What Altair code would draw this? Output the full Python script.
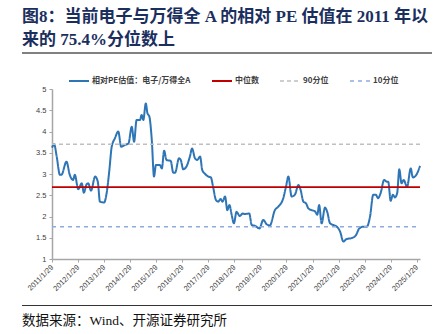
import altair as alt
import pandas as pd

# ---------------- data ----------------
series_names = ["相对PE估值：电子/万得全A", "中位数", "90分位", "10分位"]
series_colors = ["#2E75B6", "#C00000", "#BFBFBF", "#8FAADC"]

dates = [
    "2011/01/29", "2011/02/28", "2011/04/05", "2011/05/20", "2011/06/10", "2011/08/20", "2011/10/05", "2011/11/20", "2011/12/15",
    "2012/02/01", "2012/03/20", "2012/04/20", "2012/05/29", "2012/06/20", "2012/07/29", "2012/09/25", "2012/11/01", "2012/12/01",
    "2013/01/29", "2013/03/05", "2013/04/12", "2013/05/15", "2013/06/29", "2013/08/15", "2013/09/25", "2013/11/10",
    "2014/01/05", "2014/02/20", "2014/03/25", "2014/04/29", "2014/06/15", "2014/07/08", "2014/08/01", "2014/09/05", "2014/09/28", "2014/10/25", "2014/11/28", "2014/12/29",
    "2015/01/25", "2015/03/20", "2015/04/18", "2015/05/20", "2015/06/22", "2015/08/20", "2015/09/25", "2015/10/20", "2015/12/15",
    "2016/01/08", "2016/02/12", "2016/04/01", "2016/05/15", "2016/06/15", "2016/07/25", "2016/08/25", "2016/10/05", "2016/11/05", "2016/12/15",
    "2017/01/29", "2017/03/05", "2017/04/05", "2017/05/15", "2017/06/15", "2017/07/20", "2017/08/15", "2017/09/20", "2017/10/22", "2017/11/20", "2017/12/22",
    "2018/01/22", "2018/02/28", "2018/04/15", "2018/05/25", "2018/06/25", "2018/08/25", "2018/09/29", "2018/11/15",
    "2019/01/15", "2019/03/10", "2019/04/25", "2019/06/10", "2019/08/20", "2019/10/05", "2019/12/15",
    "2020/01/22", "2020/02/25", "2020/04/10", "2020/05/25", "2020/07/15", "2020/08/15", "2020/09/22", "2020/10/29", "2020/12/01",
    "2021/01/15", "2021/03/05", "2021/04/05", "2021/05/01", "2021/06/05", "2021/07/22", "2021/08/22", "2021/10/01", "2021/11/15",
    "2022/01/05", "2022/02/20", "2022/04/05", "2022/05/22", "2022/07/29", "2022/09/29", "2022/11/15",
    "2023/01/10", "2023/02/28", "2023/04/15", "2023/05/29", "2023/07/05", "2023/08/05", "2023/09/10", "2023/10/29", "2023/12/05", "2023/12/25",
    "2024/01/29", "2024/02/29", "2024/03/29", "2024/04/29", "2024/05/29", "2024/06/29", "2024/07/29", "2024/09/15", "2024/11/05", "2024/12/05",
    "2025/01/22", "2025/03/15",
]

values = [
    3.62, 3.70, 3.41, 2.98, 2.98, 3.29, 2.98, 2.86, 2.98,
    2.64, 2.78, 2.56, 2.76, 2.78, 2.61, 2.94, 2.82, 2.35,
    2.33, 2.55, 3.09, 3.64, 3.84, 4.00, 3.64, 3.68,
    3.72, 4.11, 3.76, 4.27, 4.27, 4.39, 4.27, 4.66, 4.43, 4.35, 3.80, 2.94,
    3.21, 3.21, 3.13, 3.55, 3.33, 3.31, 3.03, 3.03, 3.37,
    3.33, 3.11, 3.19, 3.41, 3.60, 3.37, 3.33, 3.41, 3.09, 3.00,
    2.94, 2.92, 2.70, 2.39, 2.35, 2.41, 2.35, 2.47, 2.15, 2.27, 2.04,
    1.84, 2.11, 2.01, 2.07, 2.06, 2.07, 1.80, 1.78,
    1.72, 1.92, 1.82, 1.79, 2.15, 2.23, 2.43,
    2.70, 2.94, 2.47, 2.51, 2.74, 2.62, 2.35, 2.31, 2.19,
    2.15, 2.12, 2.04, 2.27, 1.84, 2.21, 2.11, 1.84, 1.80,
    1.76, 1.64, 1.41, 1.47, 1.49, 1.56, 1.72,
    1.76, 1.76, 2.00, 2.51, 2.51, 2.43, 2.55, 2.86, 2.82, 2.82,
    2.37, 2.51, 2.45, 2.55, 3.11, 2.78, 2.86, 2.70, 3.13, 2.92,
    2.98, 3.19,
]

ref_values = [2.69, 3.70, 1.76]          # 中位数, 90分位, 10分位
ref_span = ["2011/01/29", "2025/03/15"]

tick_years = [2011, 2012, 2013, 2014, 2015, 2016, 2017, 2018, 2019, 2020, 2021, 2022, 2023, 2024, 2025]
y_ticks = [1, 1.5, 2, 2.5, 3, 3.5, 4, 4.5, 5]

title_lines = ["图8：当前电子与万得全 A 的相对 PE 估值在 2011 年以", "来的 75.4%分位数上"]
source_text = "数据来源：Wind、开源证券研究所"

# ---------------- build table ----------------
rows = [{"date": d, "value": v, "series": series_names[0], "order": 0} for d, v in zip(dates, values)]
for i, (name, rv) in enumerate(zip(series_names[1:], ref_values), start=1):
    for d in ref_span:
        rows.append({"date": d, "value": rv, "series": name, "order": i})
df = pd.DataFrame(rows)

W, H = 368, 170
PAD_L, PAD_T = 52, 89

legend = alt.Legend(
    title=None, orient="none", legendX=16, legendY=-19, direction="horizontal",
    symbolType="stroke", symbolSize=400, symbolStrokeWidth=2,
    labelFont="Noto Sans CJK SC", labelFontSize=8, labelFontWeight="bold",
    labelColor="#404040", labelOffset=2, columnPadding=17,
)

lines = alt.Chart(df).mark_line(interpolate="monotone").encode(
    x=alt.X(
        "date:T",
        scale=alt.Scale(domain=[alt.DateTime(year=2011, month=1, date=29),
                                alt.DateTime(year=2025, month=3, date=15)]),
        axis=alt.Axis(
            values=[alt.DateTime(year=y, month=1, date=29) for y in tick_years],
            format="%Y/%-m/%-d", labelAngle=-45, labelAlign="right", labelBaseline="middle",
            labelPadding=4, labelOverlap=False, labelBound=False, labelFlush=False,
            title=None, grid=False,
        ),
    ),
    y=alt.Y(
        "value:Q",
        scale=alt.Scale(domain=[1, 5], nice=False, zero=False),
        axis=alt.Axis(values=y_ticks, format="~g", title=None, grid=False, labelPadding=3),
    ),
    color=alt.Color("series:N", scale=alt.Scale(domain=series_names, range=series_colors), legend=legend),
    strokeDash=alt.StrokeDash("series:N",
                              scale=alt.Scale(domain=series_names, range=[[1, 0], [1, 0], [4, 3], [4, 4]]),
                              legend=legend),
    strokeWidth=alt.StrokeWidth("series:N",
                                scale=alt.Scale(domain=series_names, range=[2.0, 1.6, 1.4, 1.6]),
                                legend=None),
    order=alt.Order("order:Q"),
)

one = pd.DataFrame({"k": [0]})

title1 = alt.Chart(one).mark_text(
    text=title_lines[0], align="left", baseline="middle", font="Liberation Serif, Noto Sans CJK SC",
    fontSize=17, fontWeight="bold", color="#1B2F5E",
).encode(x=alt.value(22 - PAD_L), y=alt.value(16.5 - PAD_T))

title2 = alt.Chart(one).mark_text(
    text=title_lines[1], align="left", baseline="middle", font="Liberation Serif, Noto Sans CJK SC",
    fontSize=17, fontWeight="bold", color="#1B2F5E",
).encode(x=alt.value(22 - PAD_L), y=alt.value(40 - PAD_T))

top_rule = alt.Chart(one).mark_rule(color="#808080", strokeWidth=2).encode(
    x=alt.value(22 - PAD_L), x2=alt.value(432 - PAD_L), y=alt.value(53 - PAD_T))

bottom_rule = alt.Chart(one).mark_rule(color="#333333", strokeWidth=1).encode(
    x=alt.value(22 - PAD_L), x2=alt.value(432 - PAD_L), y=alt.value(305.5 - PAD_T))

source = alt.Chart(one).mark_text(
    text=source_text, align="left", baseline="middle", font="Liberation Serif, Noto Sans CJK SC",
    fontSize=13.5, color="#111111",
).encode(x=alt.value(22 - PAD_L), y=alt.value(321 - PAD_T))

chart = alt.layer(lines, title1, title2, top_rule, bottom_rule, source).properties(
    width=W, height=H,
    autosize=alt.AutoSizeParams(type="none"),
    padding={"left": PAD_L, "top": PAD_T, "right": 440 - PAD_L - W, "bottom": 334 - PAD_T - H},
    background="white",
).configure_view(stroke=None).configure_axis(
    domainColor="#A6A6A6", domainWidth=1.5, tickColor="#A6A6A6", tickSize=3, tickWidth=1,
    labelColor="#404040", labelFont="Liberation Sans", labelFontSize=7.5,
)

chart.save("out.html", embed_options={"renderer": "svg", "actions": False})
